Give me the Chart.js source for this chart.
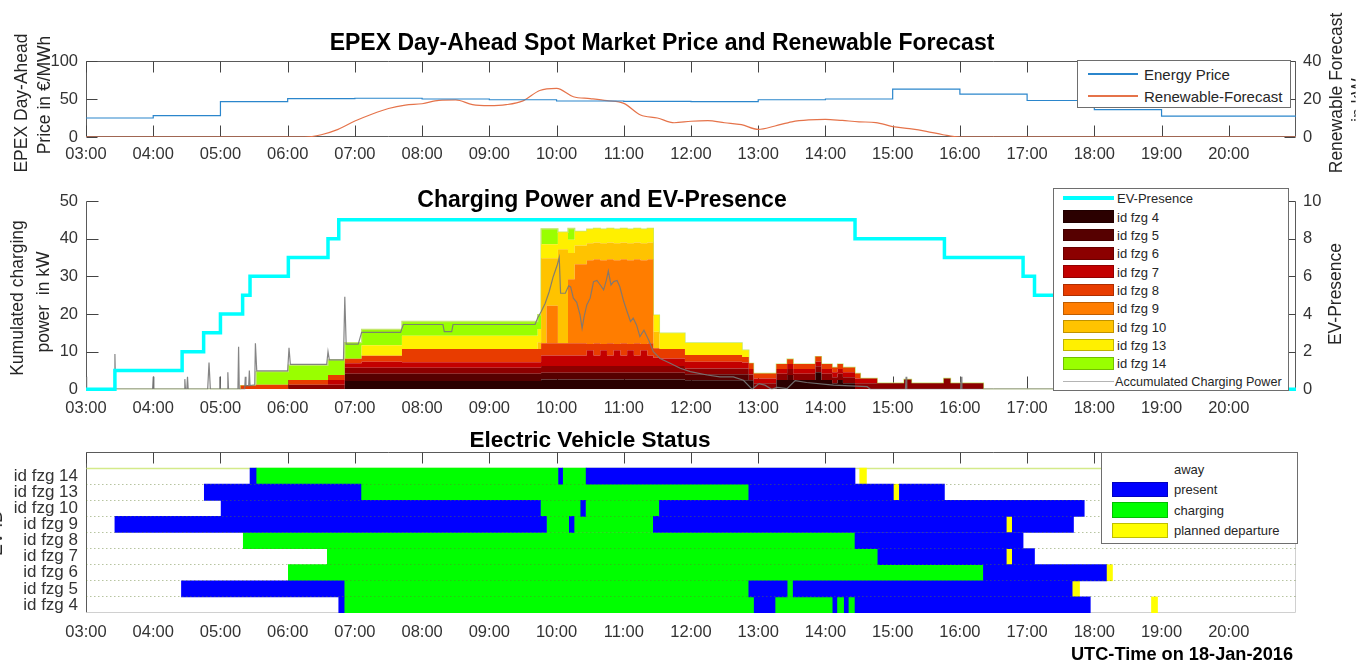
<!DOCTYPE html>
<html>
<head>
<meta charset="utf-8">
<script src="https://cdn.jsdelivr.net/npm/chart.js"></script>
<style>
  body { margin: 0; background: #fff; }
  #fig { position: relative; width: 1370px; height: 664px; overflow: hidden; background: #fff;
         font-family: 'Liberation Sans', Arial, Helvetica, sans-serif; color: #262626; }
  canvas { position: absolute; left: 0; }
  .ttl { position: absolute; transform: translate(-50%, -50%); font-weight: bold; font-size: 23px; color: #000; white-space: nowrap; }
  .vl { position: absolute; transform: translate(-50%, -50%) rotate(-90deg); font-size: 17.5px; white-space: pre; color: #262626; line-height: 20px; }
  .lg { position: absolute; background: #fff; border: 1px solid #6e6e6e; box-sizing: border-box; color: #262626; }
  .lg div { position: absolute; white-space: nowrap; }
</style>
</head>
<body>
<div id="fig">
  <canvas id="priceChart" width="1370" height="170" style="top:0"></canvas>
  <canvas id="powerChart" width="1370" height="250" style="top:170px"></canvas>
  <canvas id="statusChart" width="1370" height="244" style="top:420px"></canvas>

  <div class="ttl" style="left:662px;top:42px">EPEX Day-Ahead Spot Market Price and Renewable Forecast</div>
  <div class="ttl" style="left:602px;top:199px">Charging Power and EV-Presence</div>
  <div class="ttl" style="left:590px;top:440px;font-size:22.6px">Electric Vehicle Status</div>
  <div class="ttl" style="left:auto;right:77px;top:654px;transform:translateY(-50%);font-size:18.2px">UTC-Time on 18-Jan-2016</div>

  <div class="vl" style="left:21px;top:103px">EPEX Day-Ahead</div>
  <div class="vl" style="left:44px;top:95px">Price in €/MWh</div>
  <div class="vl" style="left:1336px;top:93px">Renewable Forecast</div>
  <div class="vl" style="left:1358px;top:100px;clip-path:inset(0 0 62% 0)">in kW</div>
  <div class="vl" style="left:17px;top:298px">Kumulated charging</div>
  <div class="vl" style="left:43px;top:302px">power  in kW</div>
  <div class="vl" style="left:1335px;top:294px">EV-Presence</div>
  <div class="vl" style="left:-4px;top:533px">EV-ID</div>
</div>
<script>
//tick labels and time axis
var hourTicks = [3, 4, 5, 6, 7, 8, 9, 10, 11, 12, 13, 14, 15, 16, 17, 18, 19, 20];

//EPEX price, hourly steps
var priceHours = [3, 4, 5, 6, 7, 8, 9, 10, 11, 12, 13, 14, 15, 16, 17, 18, 19, 20, 21];
var energyPrice = [25, 28, 46.5, 50.4, 51, 50, 49, 47.4, 47, 46.5, 49, 50, 63, 56.5, 48, 36, 27.5, 27.5, 27.5];

//renewable forecast (kW)
var renewHours = [3, 6, 6.25, 6.5, 6.75, 7, 7.25, 7.5, 7.75, 8, 8.25, 8.5, 8.75, 9, 9.25, 9.5, 9.75, 10, 10.25, 10.5, 10.75, 11, 11.25, 11.5, 11.75, 12, 12.25, 12.5, 12.75, 13, 13.25, 13.5, 13.75, 14, 14.25, 14.5, 14.75, 15, 15.25, 15.5, 15.75, 16, 21];
var renewForecast = [0, 0, 0, 1.2, 4, 8.4, 12, 15, 16.8, 17.5, 19.3, 19.5, 17, 16.5, 17, 19, 24.5, 25.6, 21.2, 20.2, 19.1, 17.7, 11.6, 10, 7.5, 8.3, 8.6, 7.5, 6.5, 4, 5.8, 8, 9, 9.3, 8.7, 8, 7.6, 5.5, 4.4, 3, 1.2, 0, 0];

//charging power per vehicle (kW), each value holds until the next time
var powerHours = [3.00, 5.30, 5.53, 6.01, 6.60, 6.85, 7.10, 7.70, 9.72, 9.77, 9.85, 10.02, 10.17, 10.27, 10.45, 10.55, 10.65, 10.75, 10.85, 10.95, 11.05, 11.15, 11.25, 11.35, 11.44, 11.53, 11.91, 12.76, 12.86, 12.93, 13.27, 13.43, 13.52, 13.85, 13.94, 14.10, 14.18, 14.26, 14.44, 14.52, 14.77, 15.17, 15.28, 15.76, 15.86, 16.35, 21.00];
var fzg4Power = [0, 0, 0, 0, 0, 2.2, 2.2, 2.2, 2.2, 2.6, 2.6, 2.6, 2.6, 2.6, 2.6, 2.6, 2.6, 2.6, 2.6, 2.6, 2.6, 2.6, 2.6, 2.6, 2.6, 2.6, 2.4, 2.4, 2.4, 0, 2.5, 2.5, 2.5, 4.5, 2.5, 1.6, 2.5, 1.6, 0, 0, 0, 0, 0, 0, 0, 0, 0];
var fzg5Power = [0, 0, 0, 0, 0, 1.9, 1.9, 1.9, 1.9, 1.8, 1.8, 1.8, 1.8, 1.8, 1.8, 1.8, 1.8, 1.8, 1.8, 1.8, 1.8, 1.8, 1.8, 1.8, 1.8, 1.8, 1.6, 1.6, 0, 0, 0, 1.3, 0, 0, 0, 0, 0, 0, 0, 0, 0, 0, 0, 0, 0, 0, 0];
var fzg6Power = [0, 0, 0, 1.2, 1.2, 1.6, 1.6, 1.6, 1.6, 1.8, 1.8, 1.8, 1.8, 1.8, 1.8, 1.8, 1.8, 1.8, 1.8, 1.8, 1.8, 1.8, 1.8, 1.8, 1.8, 1.8, 1.5, 1.5, 1.5, 1.6, 1.6, 1.6, 1.6, 1.6, 1.6, 1.6, 1.6, 1.6, 1.6, 1.6, 1.6, 2.6, 1.6, 2.9, 1.6, 0, 0];
var fzg7Power = [0, 0, 0, 0, 1.3, 1.2, 1.6, 1.5, 1.5, 2.8, 2.8, 2.8, 2.8, 2.8, 4.2, 2.8, 4.2, 2.8, 4.2, 2.8, 4.2, 2.8, 4.2, 2.8, 2.2, 2.0, 1.8, 1.6, 1.5, 1.3, 1.3, 1.3, 1.3, 1.3, 1.3, 1.3, 1.3, 1.3, 1.3, 1.3, 0, 0, 0, 0, 0, 0, 0];
var fzg8Power = [0, 1.0, 1.2, 1.3, 1.3, 1.2, 1.6, 3.5, 3.5, 3.2, 3.2, 3.2, 3.2, 3.2, 1.6, 3.2, 1.6, 3.2, 1.6, 3.2, 1.6, 3.2, 1.6, 3.2, 2.5, 2.5, 1.8, 1.5, 1.5, 1.3, 1.3, 1.3, 1.3, 1.3, 1.3, 1.3, 1.3, 1.3, 1.3, 0, 0, 0, 0, 0, 0, 0, 0];
var fzg9Power = [0, 0, 0, 0, 0, 0, 0, 0, 0, 0, 10, 0, 17, 21, 22.3, 22.3, 22.3, 22.3, 22.3, 22.3, 22.3, 22.3, 22.3, 22.3, 0, 0, 0, 0, 0, 0, 0, 0, 0, 0, 0, 0, 0, 0, 0, 0, 0, 0, 0, 0, 0, 0, 0];
var fzg10Power = [0, 0, 0, 0, 0, 0, 0, 0, 1.8, 22.6, 12.6, 25, 7, 5, 4.5, 4.5, 4.5, 4.5, 4.5, 4.5, 4.5, 4.5, 4.5, 4.5, 4.4, 0, 0, 0, 0, 0, 0, 0, 0, 0, 0, 0, 0, 0, 0, 0, 0, 0, 0, 0, 0, 0, 0];
var fzg13Power = [0, 0, 0, 0, 0, 0, 2.8, 3.5, 3.5, 3.7, 3.7, 4.5, 3.5, 3.7, 3.7, 3.7, 3.7, 3.7, 3.7, 3.7, 3.7, 3.7, 3.7, 3.7, 4.4, 4.2, 3.2, 1.8, 0, 0, 0, 0, 0, 0, 0, 0, 0, 0, 0, 0, 0, 0, 0, 0, 0, 0, 0];
var fzg14Power = [0, 0, 3.5, 3.9, 4.0, 4.3, 4.2, 3.8, 3.8, 4.1, 4.1, 0, 3.0, 0, 0, 0, 0, 0, 0, 0, 0, 0, 0, 0, 0, 0, 0, 0, 0, 0, 0, 0, 0, 0, 0, 0, 0, 0, 0, 0, 0, 0, 0, 0, 0, 0, 0];

var vehicleLabels = ['id fzg 4', 'id fzg 5', 'id fzg 6', 'id fzg 7', 'id fzg 8', 'id fzg 9', 'id fzg 10', 'id fzg 13', 'id fzg 14'];
var vehicleColors = ['#2b0000', '#560000', '#8c0000', '#c30000', '#e83c00', '#ff7d00', '#ffc300', '#fff000', '#99ff00'];
var vehiclePower = [fzg4Power, fzg5Power, fzg6Power, fzg7Power, fzg8Power, fzg9Power, fzg10Power, fzg13Power, fzg14Power];

//measured accumulated charging power (kW)
var accHours = [3.00, 3.01, 3.42, 3.43, 3.44, 3.99, 4.00, 4.01, 4.46, 4.47, 4.48, 4.50, 4.51, 4.52, 4.81, 4.83, 4.85, 4.98, 4.99, 5.00, 5.10, 5.11, 5.12, 5.26, 5.27, 5.28, 5.36, 5.37, 5.38, 5.42, 5.43, 5.44, 5.51, 5.52, 5.54, 6.00, 6.02, 6.04, 6.58, 6.60, 6.62, 6.83, 6.85, 6.87, 7.05, 7.10, 7.68, 7.72, 8.31, 8.33, 8.44, 8.46, 9.68, 9.72, 9.77, 9.83, 9.89, 9.95, 10.01, 10.04, 10.06, 10.13, 10.18, 10.21, 10.25, 10.30, 10.35, 10.38, 10.41, 10.45, 10.50, 10.55, 10.60, 10.65, 10.70, 10.74, 10.77, 10.81, 10.85, 10.90, 10.94, 11.00, 11.05, 11.10, 11.14, 11.19, 11.24, 11.30, 11.37, 11.44, 11.54, 11.69, 11.84, 11.99, 12.24, 12.43, 12.63, 12.78, 12.91, 13.01, 13.10, 13.20, 13.28, 13.43, 13.55, 13.72, 14.12, 14.62, 14.67, 15.19, 15.20, 15.21, 16.01, 16.02, 16.03, 21.00];
var accPower = [3.3, 0, 0, 9.4, 0, 0, 3.3, 0, 0, 2.7, 0, 0, 3.3, 0, 0, 7.1, 0, 0, 3.3, 0, 0, 4.5, 0, 0, 11.3, 0, 0, 3.3, 1.0, 1.0, 5.0, 1.0, 1.2, 12.2, 4.9, 4.9, 11.0, 6.6, 6.6, 10.0, 7.8, 7.8, 24.6, 12.0, 12.0, 15.1, 15.1, 17.2, 17.2, 15.3, 15.3, 17.2, 17.2, 19.0, 20.6, 22.8, 25.9, 29.9, 33.0, 35.0, 25.5, 25.5, 27.5, 27.2, 24.2, 23.1, 19.7, 16.2, 19.3, 22.4, 24.2, 28.6, 28.9, 27.7, 26.4, 28.9, 31.4, 27.7, 28.6, 28.9, 27.3, 23.3, 20.6, 18.0, 18.9, 17.1, 14.0, 15.7, 13.1, 10.0, 8.2, 6.9, 5.6, 4.7, 3.8, 3.3, 3.3, 2.4, 0, 1.5, 1.1, 0, 0.5, 0.2, 2.3, 1.8, 1.1, 0.7, 0, 0, 3.3, 0, 0, 3.3, 0, 0];

//number of vehicles present
var presenceHours = [3.00, 3.43, 4.43, 4.75, 5.00, 5.33, 5.44, 6.01, 6.60, 6.76, 14.44, 15.77, 16.94, 17.11, 17.67, 17.69, 17.85, 17.94, 18.18, 21.00];
var presenceCount = [0, 1, 2, 3, 4, 5, 6, 7, 8, 9, 8, 7, 6, 5, 4, 3, 2, 1, 0, 0];

//vehicle status segments: [from, to, status]
var statusNames = ['away', 'present', 'charging', 'planned departure'];
var statusColors = [null, '#0000ff', '#00ff00', '#ffff00'];
var statusRows = ['', 'id fzg 14', 'id fzg 13', 'id fzg 10', 'id fzg 9', 'id fzg 8', 'id fzg 7', 'id fzg 6', 'id fzg 5', 'id fzg 4'];
var fzg14Status = [[5.44, 5.53, 'present'], [5.53, 10.03, 'charging'], [10.03, 10.09, 'present'], [10.09, 10.44, 'charging'], [10.44, 14.44, 'present'], [14.51, 14.61, 'planned departure']];
var fzg13Status = [[4.76, 7.09, 'present'], [7.09, 12.86, 'charging'], [12.86, 15.01, 'present'], [15.01, 15.10, 'planned departure'], [15.10, 15.77, 'present']];
var fzg10Status = [[5.01, 9.76, 'present'], [9.76, 10.36, 'charging'], [10.36, 10.43, 'present'], [10.43, 11.53, 'charging'], [11.53, 17.85, 'present']];
var fzg9Status = [[3.43, 9.85, 'present'], [9.85, 10.19, 'charging'], [10.19, 10.26, 'present'], [10.26, 11.44, 'charging'], [11.44, 16.69, 'present'], [16.69, 16.78, 'planned departure'], [16.78, 17.69, 'present']];
var fzg8Status = [[5.34, 14.44, 'charging'], [14.44, 16.94, 'present']];
var fzg7Status = [[6.59, 14.78, 'charging'], [14.78, 16.69, 'present'], [16.69, 16.78, 'planned departure'], [16.78, 17.11, 'present']];
var fzg6Status = [[6.01, 16.35, 'charging'], [16.35, 18.18, 'present'], [18.18, 18.27, 'planned departure']];
var fzg5Status = [[4.42, 6.84, 'present'], [6.84, 12.86, 'charging'], [12.86, 13.43, 'present'], [13.43, 13.52, 'charging'], [13.52, 17.67, 'present'], [17.67, 17.78, 'planned departure']];
var fzg4Status = [[6.76, 6.84, 'present'], [6.84, 12.94, 'charging'], [12.94, 13.25, 'present'], [13.25, 14.11, 'charging'], [14.11, 14.17, 'present'], [14.17, 14.28, 'charging'], [14.28, 14.34, 'present'], [14.34, 14.44, 'charging'], [14.44, 17.94, 'present'], [18.85, 18.94, 'planned departure']];
var statusByRow = [[], fzg14Status, fzg13Status, fzg10Status, fzg9Status, fzg8Status, fzg7Status, fzg6Status, fzg5Status, fzg4Status];

Chart.defaults.font.family = "'Liberation Sans', Arial, Helvetica, sans-serif";
Chart.defaults.font.size = 16.5;
Chart.defaults.color = '#333';
Chart.defaults.animation = false;

var tickColor = '#333';
var axisColor = '#5a5a5a';
var priceColor = '#2b86cc';
var renewColor = '#e5734a';

function fmtHour(v) { return (v < 10 ? '0' : '') + v + ':00'; }
function pts(xs, ys) { return xs.map(function (x, i) { return { x: x, y: ys[i] }; }); }

function timeAxis(height, pad) {
    return {
        type: 'linear', min: 3, max: 21,
        afterBuildTicks: function (s) { s.ticks = hourTicks.map(function (v) { return { value: v }; }); },
        afterFit: function (s) { s.height = height; },
        ticks: { callback: function (v) { return fmtHour(v); }, padding: pad, maxRotation: 0, autoSkip: false, color: tickColor },
        grid: { display: false, drawTicks: false },
        border: { display: false }
    };
}
function valueAxis(pos, min, max, step, width) {
    return {
        position: pos, min: min, max: max,
        afterFit: function (s) { s.width = width; },
        ticks: { stepSize: step, padding: pos === 'left' ? 8 : 7, color: tickColor },
        grid: { display: false, drawTicks: false },
        border: { display: false }
    };
}

//matlab style box with inward ticks
var matlabAxes = {
    id: 'matlabAxes',
    beforeDatasetsDraw: function (chart, args, o) {
        var ctx = chart.ctx, a = chart.chartArea, sc = chart.scales;
        var L = Math.round(a.left) + 0.5, R = Math.round(a.right) - 0.5;
        var T = Math.round(a.top) + 0.5, B = Math.round(a.bottom) - 0.5;
        function seg(x1, y1, x2, y2, c) { ctx.strokeStyle = c; ctx.beginPath(); ctx.moveTo(x1, y1); ctx.lineTo(x2, y2); ctx.stroke(); }
        ctx.save();
        ctx.lineWidth = 1;
        if (o.left) seg(L, T, L, B, o.left);
        if (o.right) seg(R, T, R, B, o.right);
        if (o.top) seg(L, T, R, T, o.top);
        if (o.bottom) seg(L, B, R, B, o.bottom);
        var len = o.tickLen || 11;
        sc.x.ticks.forEach(function (t) {
            var px = Math.round(sc.x.getPixelForValue(t.value)) + 0.5;
            if (o.xBottom) seg(px, B, px, B - len, o.tickColor);
            if (o.xTop) seg(px, T, px, T + len, o.tickColor);
        });
        (o.yTicks || []).forEach(function (yt) {
            var s = sc[yt[0]];
            s.ticks.forEach(function (t) {
                var py = Math.round(s.getPixelForValue(t.value)) + 0.5;
                if (yt[1] === 'left') seg(L, py, L + len, py, o.tickColor);
                else seg(R, py, R - len, py, o.tickColor);
            });
        });
        if (o.rowLine) {
            var y = sc.y;
            var py = Math.round((y.getPixelForValue(0) + y.getPixelForValue(1)) / 2) + 0.5;
            ctx.lineWidth = 1.5;
            seg(L, py, R, py, o.rowLine);
        }
        ctx.restore();
    }
};

//top panel
new Chart(document.getElementById('priceChart'), {
    type: 'line',
    data: {
        datasets: [{
            label: 'Energy Price',
            data: pts(priceHours, energyPrice),
            stepped: true,
            borderColor: priceColor,
            borderWidth: 1.2,
            pointRadius: 0,
            yAxisID: 'y'
        }, {
            label: 'Renewable-Forecast',
            data: pts(renewHours, renewForecast),
            cubicInterpolationMode: 'monotone',
            borderColor: renewColor,
            borderWidth: 1.2,
            pointRadius: 0,
            yAxisID: 'y1'
        }]
    },
    options: {
        responsive: false, devicePixelRatio: 1,
        layout: { padding: { top: 61 } },
        plugins: { legend: { display: false }, tooltip: { enabled: false },
            matlabAxes: { left: axisColor, right: axisColor, top: axisColor, bottom: axisColor, tickColor: '#444', xBottom: true, xTop: true, yTicks: [['y', 'left'], ['y1', 'right']] } },
        scales: {
            x: timeAxis(33, 8),
            y: valueAxis('left', 0, 100, 50, 86),
            y1: valueAxis('right', 0, 40, 20, 74)
        }
    },
    plugins: [matlabAxes]
});

//middle panel
var powerSets = vehiclePower.map(function (vals, i) {
    return {
        label: vehicleLabels[i],
        data: pts(powerHours, vals),
        stepped: true,
        stack: 'ev',
        fill: i === 0 ? 'origin' : '-1',
        backgroundColor: vehicleColors[i],
        borderColor: i === vehiclePower.length - 1 ? '#c4e86e' : vehicleColors[i],
        borderWidth: i === vehiclePower.length - 1 ? 1.3 : 0,
        pointRadius: 0,
        yAxisID: 'y',
        order: 3
    };
});
powerSets.push({
    label: 'Accumulated Charging Power',
    data: pts(accHours, accPower),
    stack: 'acc',
    fill: false,
    borderColor: 'rgba(120,120,120,0.9)',
    borderWidth: 1.2,
    pointRadius: 0,
    yAxisID: 'y',
    order: 1
});
powerSets.unshift({
    label: 'EV-Presence',
    data: pts(presenceHours, presenceCount),
    stepped: true,
    fill: false,
    borderColor: '#00ffff',
    borderWidth: 3.5,
    pointRadius: 0,
    yAxisID: 'y1',
    clip: 5,
    order: 0
});
new Chart(document.getElementById('powerChart'), {
    type: 'line',
    data: { datasets: powerSets },
    options: {
        responsive: false, devicePixelRatio: 1,
        layout: { padding: { top: 31 } },
        plugins: { legend: { display: false }, tooltip: { enabled: false },
            matlabAxes: { left: axisColor, right: axisColor, bottom: '#bdbdbd', tickColor: '#444', xBottom: true, yTicks: [['y', 'left'], ['y1', 'right']], tickLen: 12 } },
        scales: {
            x: timeAxis(30.7, 9),
            y: Object.assign(valueAxis('left', 0, 50, 10, 86), { stacked: true }),
            y1: valueAxis('right', 0, 10, 2, 74)
        }
    },
    plugins: [matlabAxes]
});

//bottom panel
var statusSets = statusNames.map(function (name, k) {
    var data = [];
    statusByRow.forEach(function (segs, r) {
        segs.forEach(function (s) {
            if (s[2] === name) data.push({ x: [s[0], s[1]], y: statusRows[r] });
        });
    });
    return {
        label: name,
        data: data,
        backgroundColor: statusColors[k] || 'rgba(0,0,0,0)',
        borderWidth: 0,
        grouped: false,
        barPercentage: 1,
        categoryPercentage: 1
    };
});
new Chart(document.getElementById('statusChart'), {
    type: 'bar',
    data: { labels: statusRows, datasets: statusSets },
    options: {
        indexAxis: 'y',
        responsive: false, devicePixelRatio: 1,
        layout: { padding: { top: 32, right: 74 } },
        plugins: { legend: { display: false }, tooltip: { enabled: false },
            matlabAxes: { left: axisColor, top: axisColor, right: '#d0d0d0', bottom: '#d0d0d0', tickColor: '#444', xTop: true, rowLine: '#d4ea8a' } },
        scales: {
            x: timeAxis(51, 10),
            y: {
                type: 'category',
                offset: true,
                afterFit: function (s) { s.width = 86; },
                ticks: { autoSkip: false, padding: 8, color: tickColor, font: { size: 17 } },
                grid: { offset: true, drawTicks: false, z: 1, lineWidth: 1,
                    color: function (c) { return (c.index >= 2 && c.index <= 9) ? 'rgba(95,125,45,0.45)' : 'rgba(0,0,0,0)'; } },
                border: { display: false, dash: [1.5, 2.5] }
            }
        }
    },
    plugins: [matlabAxes]
});

//legends drawn as boxes in the axes, like matlab
function addLegend(box, items) {
    var el = document.createElement('div');
    el.className = 'lg';
    el.style.left = box.x + 'px'; el.style.top = box.y + 'px';
    el.style.width = box.w + 'px'; el.style.height = box.h + 'px';
    el.style.fontSize = box.font + 'px';
    items.forEach(function (it, i) {
        var cy = box.pad + box.row * i + box.row / 2;
        if (it.kind === 'line') {
            var ln = document.createElement('div');
            ln.style.cssText = 'left:' + box.swX + 'px;top:' + (cy - it.width / 2) + 'px;width:' + box.swW + 'px;height:' + it.width + 'px;background:' + it.color;
            el.appendChild(ln);
        } else if (it.kind === 'box') {
            var sw = document.createElement('div');
            sw.style.cssText = 'left:' + box.swX + 'px;top:' + (cy - box.swH / 2) + 'px;width:' + box.swW + 'px;height:' + box.swH + 'px;background:' + it.color + ';box-sizing:border-box;border:1px solid rgba(0,0,0,0.25)';
            el.appendChild(sw);
        }
        var tx = document.createElement('div');
        tx.textContent = it.label;
        tx.style.cssText = 'left:' + (box.txX + (it.dx || 0)) + 'px;top:' + cy + 'px;transform:translateY(-50%)' + (it.size ? ';font-size:' + it.size + 'px' : '');
        el.appendChild(tx);
    });
    document.getElementById('fig').appendChild(el);
}

addLegend({ x: 1077, y: 60, w: 214, h: 48, font: 15, pad: 2, row: 22, swX: 10, swW: 50, txX: 66 }, [
    { kind: 'line', label: 'Energy Price', color: priceColor, width: 1.2 },
    { kind: 'line', label: 'Renewable-Forecast', color: renewColor, width: 1.2 }
]);

var powerLegend = [{ kind: 'line', label: 'EV-Presence', color: '#00ffff', width: 3.5 }];
vehicleLabels.forEach(function (l, i) { powerLegend.push({ kind: 'box', label: l, color: vehicleColors[i] }); });
powerLegend.push({ kind: 'line', label: 'Accumulated Charging Power', color: '#b4b4b4', width: 1.2, dx: -2, size: 12.6 });
addLegend({ x: 1053, y: 188, w: 236, h: 203, font: 13, pad: 0, row: 18.36, swX: 9, swW: 51, swH: 12.5, txX: 63 }, powerLegend);

addLegend({ x: 1101, y: 452, w: 197, h: 92, font: 13, pad: 5.5, row: 20.5, swX: 10, swW: 56, swH: 15.5, txX: 72 },
    statusNames.map(function (n, k) { return { kind: statusColors[k] ? 'box' : 'none', label: n, color: statusColors[k] }; }));
</script>
</body>
</html>
